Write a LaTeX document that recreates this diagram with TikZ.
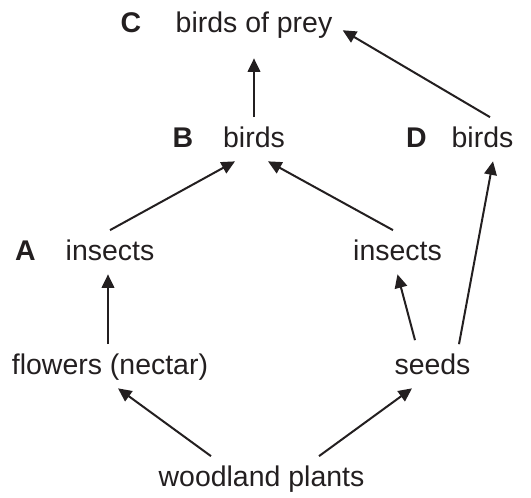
\documentclass[tikz,border=0pt]{standalone}
\usepackage{fontspec}
\setmainfont{Liberation Sans}
\usepackage{tikz}
\usetikzlibrary{arrows.meta}
\definecolor{inkgray}{HTML}{231F20}

\begin{document}
\begin{tikzpicture}[
  font=\fontsize{16.2}{19}\selectfont,
  >={Triangle[length=0.27cm, width=0.25cm]},
  orgnode/.style={anchor=base, text=inkgray, text height=0.41cm, text depth=0.06cm, inner xsep=0.1cm, inner ysep=0.2cm},
  lvlnode/.style={orgnode, font=\fontsize{16.2}{19}\selectfont\bfseries},
  feeds/.style={->, draw=inkgray, line width=0.04cm}
]
  \useasboundingbox (0,0) rectangle (10.62,9.96);
  % top level
  \node[orgnode] (prey) at (5.08,9.30) {birds of prey};
  \node[lvlnode] (labC) at (2.62,9.30) {C};
  % birds
  \node[orgnode] (birdsB) at (5.08,7.00) {birds};
  \node[lvlnode] (labB) at (3.66,7.00) {B};
  \node[orgnode] (birdsD) at (9.65,7.00) {birds};
  \node[lvlnode] (labD) at (8.33,7.00) {D};
  % insects
  \node[orgnode] (insA) at (2.20,4.74) {insects};
  \node[lvlnode] (labA) at (0.51,4.74) {A};
  \node[orgnode] (insR) at (7.95,4.74) {insects};
  % producers
  \node[orgnode] (flowers) at (2.20,2.46) {flowers (nectar)};
  \node[orgnode] (seeds) at (8.65,2.46) {seeds};
  \node[orgnode] (plants) at (5.23,0.22) {woodland plants};
  % feeding links
  \draw[feeds, shorten >=0.24cm] (birdsB.north) -- (prey.south);
  \draw[feeds] ([xshift=0.15cm]birdsD.north) -- ([xshift=0.1cm, yshift=-0.12cm]prey.east);
  \draw[feeds] (insA.north) -- ([xshift=-0.38cm]birdsB.south);
  \draw[feeds] ([xshift=-0.09cm]insR.north) -- ([xshift=0.28cm]birdsB.south);
  \draw[feeds] ([xshift=0.53cm]seeds.north) -- ([xshift=0.21cm]birdsD.south);
  \draw[feeds] ([xshift=-0.04cm]flowers.north) -- ([xshift=-0.04cm]insA.south);
  \draw[feeds] ([xshift=-0.35cm, yshift=0.08cm]seeds.north) -- (insR.south);
  \draw[feeds] ([xshift=-1.01cm]plants.north) -- ([xshift=0.16cm]flowers.south);
  \draw[feeds] ([xshift=1.15cm]plants.north) -- ([xshift=-0.41cm]seeds.south);
\end{tikzpicture}
\end{document}
